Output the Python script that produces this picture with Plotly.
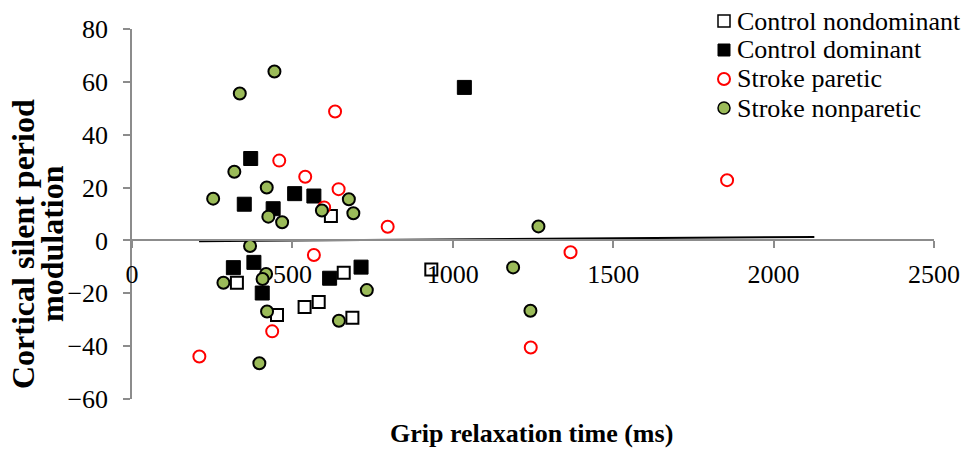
import plotly.graph_objects as go

FONT = "Liberation Serif"

# ---- data -------------------------------------------------------------
series_names = ["Control nondominant", "Control dominant",
                "Stroke paretic", "Stroke nonparetic"]

ctrl_nondom_x = [620, 327, 660, 933, 582, 538, 452, 687]
ctrl_nondom_y = [9.2, -16.0, -12.2, -11.0, -23.3, -25.2, -28.2, -29.3]

ctrl_dom_x = [370, 507, 567, 350, 440, 316, 380, 406, 616, 714, 1036]
ctrl_dom_y = [31.0, 17.7, 16.8, 13.7, 12.0, -10.3, -8.3, -19.9, -14.3, -10.1, 57.9]

stroke_par_x = [633, 459, 540, 644, 599, 797, 567, 437, 210, 1367, 1243, 1855]
stroke_par_y = [48.8, 30.2, 24.1, 19.4, 12.5, 5.2, -5.5, -34.4, -43.9, -4.5, -40.5, 22.8]

stroke_nonpar_x = [444, 336, 319, 420, 253, 676, 690, 425, 468, 592, 368,
                   418, 285, 407, 732, 421, 645, 397, 1267, 1188, 1242]
stroke_nonpar_y = [63.9, 55.6, 26.0, 20.0, 15.8, 15.6, 10.3, 9.0, 6.9, 11.3, -2.1,
                   -12.7, -16.0, -14.6, -18.8, -26.9, -30.4, -46.5, 5.3, -10.2, -26.6]

# linear trend line endpoints
trend_x = [209, 2127]
trend_y = [-0.3, 1.3]

x_ticks = [0, 500, 1000, 1500, 2000, 2500]
y_ticks = [-60, -40, -20, 0, 20, 40, 60, 80]

# ---- styles -----------------------------------------------------------
GREEN = "#9BBB59"
RED = "#FF0000"
AXIS_GRAY = "#8C8C8C"

styles = [
    dict(symbol="square", size=12, color="white", line=dict(color="black", width=2)),
    dict(symbol="square", size=14, color="black", line=dict(color="black", width=1)),
    dict(symbol="circle", size=12, color="white", line=dict(color=RED, width=2)),
    dict(symbol="circle", size=12, color=GREEN, line=dict(color="black", width=2)),
]
xs = [ctrl_nondom_x, ctrl_dom_x, stroke_par_x, stroke_nonpar_x]
ys = [ctrl_nondom_y, ctrl_dom_y, stroke_par_y, stroke_nonpar_y]

fig = go.Figure()

fig.add_trace(go.Scatter(x=trend_x, y=trend_y, mode="lines",
                         line=dict(color="black", width=2),
                         showlegend=False, hoverinfo="skip"))

for name, x, y, st in zip(series_names, xs, ys, styles):
    fig.add_trace(go.Scatter(x=x, y=y, mode="markers", name=name,
                             marker=st, showlegend=False, cliponaxis=False))

# ---- legend (top right) ------------------------------------------------
ML, MR, MT, MB = 132, 30, 29, 50
W, H = 964, 449
PW, PH = W - ML - MR, H - MT - MB


def px_x(p):
    return (p - ML) / PW


def px_y(p):
    return (MT + PH - p) / PH


leg_sym_x = 724
leg_text_x = 735
leg_rows = [21, 50, 79, 108]
shape_defs = [
    ("rect", "white", "black", 1.5),
    ("rect", "black", "black", 1),
    ("circle", "white", RED, 2),
    ("circle", GREEN, "black", 1.5),
]
half = 6
for (kind, fill, lc, lw), row, name in zip(shape_defs, leg_rows, series_names):
    fig.add_shape(type=kind, xref="paper", yref="paper",
                  xsizemode="pixel", ysizemode="pixel",
                  xanchor=px_x(leg_sym_x), yanchor=px_y(row),
                  x0=-half, x1=half, y0=-half, y1=half,
                  fillcolor=fill, line=dict(color=lc, width=lw))
    fig.add_annotation(text=name, xref="paper", yref="paper",
                       x=px_x(leg_text_x), y=px_y(row),
                       xanchor="left", yanchor="middle", showarrow=False,
                       font=dict(family=FONT, size=26, color="black"))

# ---- axis titles ------------------------------------------------------
fig.add_annotation(text="Grip relaxation time (ms)", xref="paper", yref="paper",
                   x=px_x(531), y=px_y(434), xanchor="center", yanchor="middle",
                   showarrow=False,
                   font=dict(family=FONT, size=26, color="black", weight="bold"))
for line_text, cx in [("Cortical silent period", 23), ("modulation", 52)]:
    fig.add_annotation(text=line_text, xref="paper", yref="paper",
                       x=px_x(cx), y=px_y(244), xanchor="center", yanchor="middle",
                       textangle=-90, showarrow=False,
                       font=dict(family=FONT, size=32, color="black", weight="bold"))

fig.update_layout(
    width=W, height=H,
    margin=dict(l=ML, r=MR, t=MT, b=MB, autoexpand=False),
    paper_bgcolor="white", plot_bgcolor="white",
    font=dict(family=FONT, size=26, color="black"),
    showlegend=False,
    xaxis=dict(range=[0, 2500], tickvals=x_ticks, showgrid=False, zeroline=False,
               showline=True, linecolor=AXIS_GRAY, linewidth=1.5,
               ticks="outside", ticklen=7, tickcolor=AXIS_GRAY, tickwidth=1.5,
               anchor="free", position=60 / 140, ticklabelstandoff=4,
               tickfont=dict(family=FONT, size=26, color="black")),
    yaxis=dict(range=[-60, 80], tickvals=y_ticks, showgrid=False, zeroline=False,
               showline=True, linecolor=AXIS_GRAY, linewidth=1.5,
               ticks="outside", ticklen=7, tickcolor=AXIS_GRAY, tickwidth=1.5,
               ticklabelstandoff=10,
               tickfont=dict(family=FONT, size=26, color="black")),
)

fig.write_html("out.html")
